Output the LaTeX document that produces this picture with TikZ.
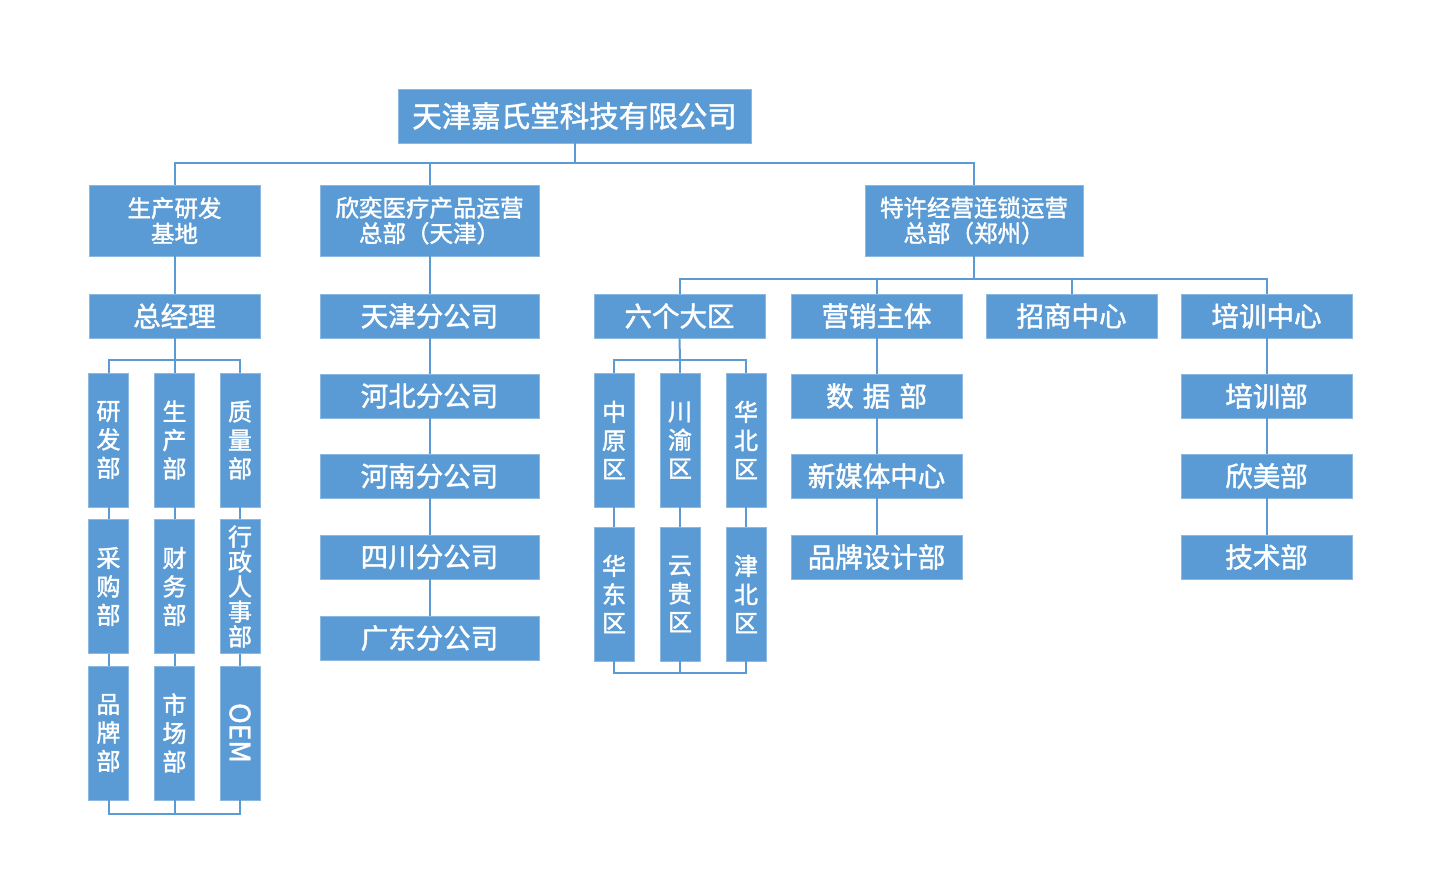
\documentclass[tikz,border=0pt]{standalone}
\usepackage{fontspec}
\newfontfamily\cjk[FakeBold=1.6]{Noto Sans CJK SC}
\definecolor{boxblue}{HTML}{5B9BD5}
\tikzset{
  box/.style={fill=boxblue, draw=boxblue!70!white, line width=0.8pt, inner sep=0pt, text=white, align=center, font=\cjk\fontsize{27.5}{30}\selectfont},
  hbox/.style={box, minimum width=171pt, minimum height=44pt},
  mbox/.style={box, minimum width=219pt, minimum height=44pt},
  vbox/.style={box, minimum width=40pt, minimum height=134pt, font=\cjk\fontsize{24}{28.5}\selectfont},
  conn/.style={draw=boxblue, line width=2pt}
}
\begin{document}
\begin{tikzpicture}[x=1pt,y=-1pt]
\useasboundingbox[fill=white] (0,0) rectangle (1440,869);

% ---- coordinates for buses
\coordinate (bus1) at (574.5,163);
\coordinate (bus2) at (974,279);
\coordinate (bus3) at (174.5,360);
\coordinate (bus4) at (174.5,814);
\coordinate (bus5) at (680,360);
\coordinate (bus6) at (680,673);

% ---- nodes
\node[box, minimum width=353pt, minimum height=54pt, font=\cjk\fontsize{29.5}{32}\selectfont] (top) at (574.5,116) {天津嘉氏堂科技有限公司};

\node[box, minimum width=171pt, minimum height=71pt, font=\cjk\fontsize{23.5}{25.5}\selectfont] (A) at (174.5,220.5) {生产研发\\基地};
\node[box, minimum width=219pt, minimum height=71pt, font=\cjk\fontsize{23.5}{25.5}\selectfont] (B) at (429.5,220.5) {欣奕医疗产品运营\\总部（天津）};
\node[box, minimum width=218pt, minimum height=71pt, font=\cjk\fontsize{23.5}{25.5}\selectfont] (C) at (974,220.5) {特许经营连锁运营\\总部（郑州）};

\node[hbox] (gm) at (174.5,316) {总经理};
\node[mbox] (b1) at (429.5,316) {天津分公司};
\node[mbox] (b2) at (429.5,396) {河北分公司};
\node[mbox] (b3) at (429.5,476) {河南分公司};
\node[mbox] (b4) at (429.5,557) {四川分公司};
\node[mbox] (b5) at (429.5,638) {广东分公司};

\node[hbox] (r1) at (679.5,316) {六个大区};
\node[hbox] (r2) at (876.5,316) {营销主体};
\node[hbox] (r3) at (1071.5,316) {招商中心};
\node[hbox] (r4) at (1266.5,316) {培训中心};

\node[hbox] (m1) at (876.5,396) {数\,\,据\,\,部};
\node[hbox] (m2) at (876.5,476) {新媒体中心};
\node[hbox] (m3) at (876.5,557) {品牌设计部};

\node[hbox] (t1) at (1266.5,396) {培训部};
\node[hbox] (t2) at (1266.5,476) {欣美部};
\node[hbox] (t3) at (1266.5,557) {技术部};

% left small boxes
\node[vbox] (s11) at (108.5,440) {研\\发\\部};
\node[vbox] (s12) at (174.5,440) {生\\产\\部};
\node[vbox] (s13) at (240,440) {质\\量\\部};
\node[vbox] (s21) at (108.5,586.5) {采\\购\\部};
\node[vbox] (s22) at (174.5,586.5) {财\\务\\部};
\node[vbox, font=\cjk\fontsize{24}{25}\selectfont] (s23) at (240,586.5) {行\\政\\人\\事\\部};
\node[vbox] (s31) at (108.5,733) {品\\牌\\部};
\node[vbox] (s32) at (174.5,733) {市\\场\\部};
\node[vbox] (s33) at (240,733) {\rotatebox{-90}{\fontsize{28}{30}\selectfont OEM}};

% region boxes
\node[vbox] (z11) at (614,440) {中\\原\\区};
\node[vbox] (z12) at (680,440) {川\\渝\\区};
\node[vbox] (z13) at (746,440) {华\\北\\区};
\node[vbox] (z21) at (614,594) {华\\东\\区};
\node[vbox] (z22) at (680,594) {云\\贵\\区};
\node[vbox] (z23) at (746,594) {津\\北\\区};

% ---- connectors between nodes
\path[conn] (top.south) -- (bus1);
\path[conn] (A.north) |- (bus1) -| (C.north);
\path[conn] (B.north) -- (B.north |- bus1);

\path[conn] (A.south) -- (gm.north);
\path[conn] (B.south) -- (b1.north);
\path[conn] (b1.south) -- (b2.north);
\path[conn] (b2.south) -- (b3.north);
\path[conn] (b3.south) -- (b4.north);
\path[conn] (b4.south) -- (b5.north);

\path[conn] (C.south) -- (bus2);
\path[conn] (r1.north) |- (bus2) -| (r4.north);
\path[conn] (r2.north) -- (r2.north |- bus2);
\path[conn] (r3.north) -- (r3.north |- bus2);

\path[conn] (r2.south) -- (m1.north);
\path[conn] (m1.south) -- (m2.north);
\path[conn] (m2.south) -- (m3.north);
\path[conn] (r4.south) -- (t1.north);
\path[conn] (t1.south) -- (t2.north);
\path[conn] (t2.south) -- (t3.north);

\path[conn] (gm.south) -- (bus3);
\path[conn] (s11.north) |- (bus3) -| (s13.north);
\path[conn] (s12.north) -- (bus3);
\path[conn] (s11.south) -- (s21.north);
\path[conn] (s12.south) -- (s22.north);
\path[conn] (s13.south) -- (s23.north);
\path[conn] (s21.south) -- (s31.north);
\path[conn] (s22.south) -- (s32.north);
\path[conn] (s23.south) -- (s33.north);
\path[conn] (s31.south) |- (bus4) -| (s33.south);
\path[conn] (s32.south) -- (bus4);

\path[conn] (r1.south) -- (bus5);
\path[conn] (z11.north) |- (bus5) -| (z13.north);
\path[conn] (z12.north) -- (bus5);
\path[conn] (z11.south) -- (z21.north);
\path[conn] (z12.south) -- (z22.north);
\path[conn] (z13.south) -- (z23.north);
\path[conn] (z21.south) |- (bus6) -| (z23.south);
\path[conn] (z22.south) -- (bus6);
\end{tikzpicture}
\end{document}
